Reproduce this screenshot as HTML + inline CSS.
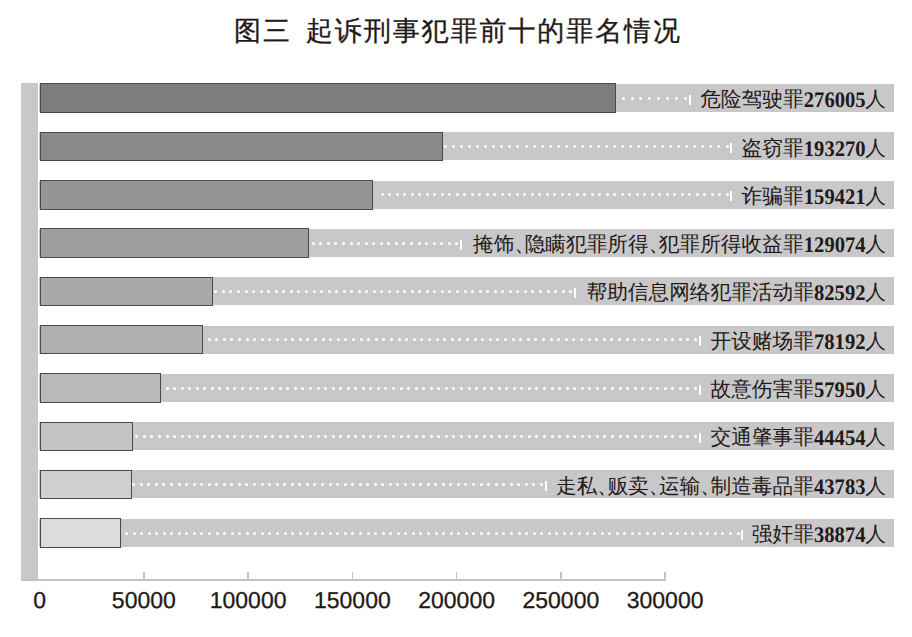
<!DOCTYPE html>
<html><head><meta charset="utf-8"><style>
html,body{margin:0;padding:0;background:#fff;}
body{width:912px;height:637px;position:relative;overflow:hidden;font-family:"Liberation Sans",sans-serif;color:#231815;text-rendering:geometricPrecision;}
.title{position:absolute;left:234px;top:12.7px;white-space:nowrap;font-size:27px;line-height:36px;letter-spacing:1.93px;-webkit-text-stroke:0.3px #231815;}
.lbar{position:absolute;left:20.5px;top:82.9px;width:17.7px;height:497.7px;background:#c8c8ca;}
.band{position:absolute;left:38.5px;width:855px;height:28.0px;background:#c8c8ca;}
.bar{position:absolute;left:39.6px;height:29.6px;box-sizing:border-box;border:1.1px solid #4a4a4a;}
.lab{position:absolute;right:26px;height:28.0px;font-size:20.68px;white-space:nowrap;display:flex;align-items:center;}
.num{display:inline-block;font-family:"Liberation Serif",serif;font-weight:bold;font-size:22.2px;transform:scaleX(0.928);transform-origin:right center;}
.vl{position:absolute;width:2px;height:10px;background:#fff;}
.p{display:inline-block;width:10.2px;overflow:visible;}
.dot{position:absolute;width:3px;height:3px;border-radius:50%;background:#fff;}
.axis{position:absolute;left:20.8px;top:579px;width:645.1px;height:1.8px;background:#c2c2c4;}
.tick{position:absolute;top:572px;width:1.6px;height:7.5px;background:#c6c6c8;}
.alab{position:absolute;top:587px;width:120px;text-align:center;font-size:23px;line-height:26px;-webkit-text-stroke:0.3px #231815;}
</style></head><body>
<div class="title">图三<span style="display:inline-block;width:14px"></span>起诉刑事犯罪前十的罪名情况</div>
<div class="lbar"></div>
<div class="band" style="top:84.0px"></div><div class="bar" style="top:83.4px;width:576.3px;background:#7d7d7d"></div><div class="vl" style="left:688.7px;top:94.8px"></div><div class="lab" style="top:86.2px"><span class="cn">危险驾驶罪</span><span class="num" style="margin-left:-4.79px">276005</span><span class="cn">人</span></div><i class="dot" style="left:683.90px;top:96.8px"></i><i class="dot" style="left:675.00px;top:96.8px"></i><i class="dot" style="left:666.10px;top:96.8px"></i><i class="dot" style="left:657.20px;top:96.8px"></i><i class="dot" style="left:648.30px;top:96.8px"></i><i class="dot" style="left:639.40px;top:96.8px"></i><i class="dot" style="left:630.50px;top:96.8px"></i><i class="dot" style="left:621.60px;top:96.8px"></i><div class="band" style="top:132.3px"></div><div class="bar" style="top:131.7px;width:403.8px;background:#898989"></div><div class="vl" style="left:730.3px;top:143.1px"></div><div class="lab" style="top:134.5px"><span class="cn">盗窃罪</span><span class="num" style="margin-left:-4.79px">193270</span><span class="cn">人</span></div><i class="dot" style="left:725.50px;top:145.1px"></i><i class="dot" style="left:717.46px;top:145.1px"></i><i class="dot" style="left:709.42px;top:145.1px"></i><i class="dot" style="left:701.38px;top:145.1px"></i><i class="dot" style="left:693.34px;top:145.1px"></i><i class="dot" style="left:685.30px;top:145.1px"></i><i class="dot" style="left:677.26px;top:145.1px"></i><i class="dot" style="left:669.22px;top:145.1px"></i><i class="dot" style="left:661.18px;top:145.1px"></i><i class="dot" style="left:653.14px;top:145.1px"></i><i class="dot" style="left:645.10px;top:145.1px"></i><i class="dot" style="left:637.06px;top:145.1px"></i><i class="dot" style="left:629.02px;top:145.1px"></i><i class="dot" style="left:620.98px;top:145.1px"></i><i class="dot" style="left:612.94px;top:145.1px"></i><i class="dot" style="left:604.90px;top:145.1px"></i><i class="dot" style="left:596.86px;top:145.1px"></i><i class="dot" style="left:588.82px;top:145.1px"></i><i class="dot" style="left:580.78px;top:145.1px"></i><i class="dot" style="left:572.74px;top:145.1px"></i><i class="dot" style="left:564.70px;top:145.1px"></i><i class="dot" style="left:556.66px;top:145.1px"></i><i class="dot" style="left:548.62px;top:145.1px"></i><i class="dot" style="left:540.58px;top:145.1px"></i><i class="dot" style="left:532.54px;top:145.1px"></i><i class="dot" style="left:524.50px;top:145.1px"></i><i class="dot" style="left:516.46px;top:145.1px"></i><i class="dot" style="left:508.42px;top:145.1px"></i><i class="dot" style="left:500.38px;top:145.1px"></i><i class="dot" style="left:492.34px;top:145.1px"></i><i class="dot" style="left:484.30px;top:145.1px"></i><i class="dot" style="left:476.26px;top:145.1px"></i><i class="dot" style="left:468.22px;top:145.1px"></i><i class="dot" style="left:460.18px;top:145.1px"></i><i class="dot" style="left:452.14px;top:145.1px"></i><i class="dot" style="left:444.10px;top:145.1px"></i><div class="band" style="top:180.6px"></div><div class="bar" style="top:180.0px;width:333.2px;background:#959595"></div><div class="vl" style="left:730.3px;top:191.4px"></div><div class="lab" style="top:182.8px"><span class="cn">诈骗罪</span><span class="num" style="margin-left:-4.79px">159421</span><span class="cn">人</span></div><i class="dot" style="left:725.50px;top:193.4px"></i><i class="dot" style="left:718.00px;top:193.4px"></i><i class="dot" style="left:710.50px;top:193.4px"></i><i class="dot" style="left:703.00px;top:193.4px"></i><i class="dot" style="left:695.50px;top:193.4px"></i><i class="dot" style="left:688.00px;top:193.4px"></i><i class="dot" style="left:680.50px;top:193.4px"></i><i class="dot" style="left:673.00px;top:193.4px"></i><i class="dot" style="left:665.50px;top:193.4px"></i><i class="dot" style="left:658.00px;top:193.4px"></i><i class="dot" style="left:650.50px;top:193.4px"></i><i class="dot" style="left:643.00px;top:193.4px"></i><i class="dot" style="left:635.50px;top:193.4px"></i><i class="dot" style="left:628.00px;top:193.4px"></i><i class="dot" style="left:620.50px;top:193.4px"></i><i class="dot" style="left:613.00px;top:193.4px"></i><i class="dot" style="left:605.50px;top:193.4px"></i><i class="dot" style="left:598.00px;top:193.4px"></i><i class="dot" style="left:590.50px;top:193.4px"></i><i class="dot" style="left:583.00px;top:193.4px"></i><i class="dot" style="left:575.50px;top:193.4px"></i><i class="dot" style="left:568.00px;top:193.4px"></i><i class="dot" style="left:560.50px;top:193.4px"></i><i class="dot" style="left:553.00px;top:193.4px"></i><i class="dot" style="left:545.50px;top:193.4px"></i><i class="dot" style="left:538.00px;top:193.4px"></i><i class="dot" style="left:530.50px;top:193.4px"></i><i class="dot" style="left:523.00px;top:193.4px"></i><i class="dot" style="left:515.50px;top:193.4px"></i><i class="dot" style="left:508.00px;top:193.4px"></i><i class="dot" style="left:500.50px;top:193.4px"></i><i class="dot" style="left:493.00px;top:193.4px"></i><i class="dot" style="left:485.50px;top:193.4px"></i><i class="dot" style="left:478.00px;top:193.4px"></i><i class="dot" style="left:470.50px;top:193.4px"></i><i class="dot" style="left:463.00px;top:193.4px"></i><i class="dot" style="left:455.50px;top:193.4px"></i><i class="dot" style="left:448.00px;top:193.4px"></i><i class="dot" style="left:440.50px;top:193.4px"></i><i class="dot" style="left:433.00px;top:193.4px"></i><i class="dot" style="left:425.50px;top:193.4px"></i><i class="dot" style="left:418.00px;top:193.4px"></i><i class="dot" style="left:410.50px;top:193.4px"></i><i class="dot" style="left:403.00px;top:193.4px"></i><i class="dot" style="left:395.50px;top:193.4px"></i><i class="dot" style="left:388.00px;top:193.4px"></i><i class="dot" style="left:380.50px;top:193.4px"></i><div class="band" style="top:228.9px"></div><div class="bar" style="top:228.3px;width:269.9px;background:#9f9f9f"></div><div class="vl" style="left:460.2px;top:239.7px"></div><div class="lab" style="top:231.1px"><span class="cn">掩饰<span class=p>、</span>隐瞒犯罪所得<span class=p>、</span>犯罪所得收益罪</span><span class="num" style="margin-left:-4.79px">129074</span><span class="cn">人</span></div><i class="dot" style="left:455.40px;top:241.7px"></i><i class="dot" style="left:447.84px;top:241.7px"></i><i class="dot" style="left:440.28px;top:241.7px"></i><i class="dot" style="left:432.72px;top:241.7px"></i><i class="dot" style="left:425.16px;top:241.7px"></i><i class="dot" style="left:417.60px;top:241.7px"></i><i class="dot" style="left:410.04px;top:241.7px"></i><i class="dot" style="left:402.48px;top:241.7px"></i><i class="dot" style="left:394.92px;top:241.7px"></i><i class="dot" style="left:387.36px;top:241.7px"></i><i class="dot" style="left:379.80px;top:241.7px"></i><i class="dot" style="left:372.24px;top:241.7px"></i><i class="dot" style="left:364.68px;top:241.7px"></i><i class="dot" style="left:357.12px;top:241.7px"></i><i class="dot" style="left:349.56px;top:241.7px"></i><i class="dot" style="left:342.00px;top:241.7px"></i><i class="dot" style="left:334.44px;top:241.7px"></i><i class="dot" style="left:326.88px;top:241.7px"></i><i class="dot" style="left:319.32px;top:241.7px"></i><i class="dot" style="left:311.76px;top:241.7px"></i><div class="band" style="top:277.2px"></div><div class="bar" style="top:276.6px;width:173.0px;background:#a9a9a9"></div><div class="vl" style="left:574.0px;top:288.0px"></div><div class="lab" style="top:279.4px"><span class="cn">帮助信息网络犯罪活动罪</span><span class="num" style="margin-left:-4.00px">82592</span><span class="cn">人</span></div><i class="dot" style="left:569.20px;top:290.0px"></i><i class="dot" style="left:561.65px;top:290.0px"></i><i class="dot" style="left:554.10px;top:290.0px"></i><i class="dot" style="left:546.55px;top:290.0px"></i><i class="dot" style="left:539.00px;top:290.0px"></i><i class="dot" style="left:531.45px;top:290.0px"></i><i class="dot" style="left:523.90px;top:290.0px"></i><i class="dot" style="left:516.35px;top:290.0px"></i><i class="dot" style="left:508.80px;top:290.0px"></i><i class="dot" style="left:501.25px;top:290.0px"></i><i class="dot" style="left:493.70px;top:290.0px"></i><i class="dot" style="left:486.15px;top:290.0px"></i><i class="dot" style="left:478.60px;top:290.0px"></i><i class="dot" style="left:471.05px;top:290.0px"></i><i class="dot" style="left:463.50px;top:290.0px"></i><i class="dot" style="left:455.95px;top:290.0px"></i><i class="dot" style="left:448.40px;top:290.0px"></i><i class="dot" style="left:440.85px;top:290.0px"></i><i class="dot" style="left:433.30px;top:290.0px"></i><i class="dot" style="left:425.75px;top:290.0px"></i><i class="dot" style="left:418.20px;top:290.0px"></i><i class="dot" style="left:410.65px;top:290.0px"></i><i class="dot" style="left:403.10px;top:290.0px"></i><i class="dot" style="left:395.55px;top:290.0px"></i><i class="dot" style="left:388.00px;top:290.0px"></i><i class="dot" style="left:380.45px;top:290.0px"></i><i class="dot" style="left:372.90px;top:290.0px"></i><i class="dot" style="left:365.35px;top:290.0px"></i><i class="dot" style="left:357.80px;top:290.0px"></i><i class="dot" style="left:350.25px;top:290.0px"></i><i class="dot" style="left:342.70px;top:290.0px"></i><i class="dot" style="left:335.15px;top:290.0px"></i><i class="dot" style="left:327.60px;top:290.0px"></i><i class="dot" style="left:320.05px;top:290.0px"></i><i class="dot" style="left:312.50px;top:290.0px"></i><i class="dot" style="left:304.95px;top:290.0px"></i><i class="dot" style="left:297.40px;top:290.0px"></i><i class="dot" style="left:289.85px;top:290.0px"></i><i class="dot" style="left:282.30px;top:290.0px"></i><i class="dot" style="left:274.75px;top:290.0px"></i><i class="dot" style="left:267.20px;top:290.0px"></i><i class="dot" style="left:259.65px;top:290.0px"></i><i class="dot" style="left:252.10px;top:290.0px"></i><i class="dot" style="left:244.55px;top:290.0px"></i><i class="dot" style="left:237.00px;top:290.0px"></i><i class="dot" style="left:229.45px;top:290.0px"></i><i class="dot" style="left:221.90px;top:290.0px"></i><i class="dot" style="left:214.35px;top:290.0px"></i><div class="band" style="top:325.5px"></div><div class="bar" style="top:324.9px;width:163.8px;background:#b0b0b0"></div><div class="vl" style="left:698.8px;top:336.3px"></div><div class="lab" style="top:327.7px"><span class="cn">开设赌场罪</span><span class="num" style="margin-left:-4.00px">78192</span><span class="cn">人</span></div><i class="dot" style="left:694.00px;top:338.3px"></i><i class="dot" style="left:686.40px;top:338.3px"></i><i class="dot" style="left:678.80px;top:338.3px"></i><i class="dot" style="left:671.20px;top:338.3px"></i><i class="dot" style="left:663.60px;top:338.3px"></i><i class="dot" style="left:656.00px;top:338.3px"></i><i class="dot" style="left:648.40px;top:338.3px"></i><i class="dot" style="left:640.80px;top:338.3px"></i><i class="dot" style="left:633.20px;top:338.3px"></i><i class="dot" style="left:625.60px;top:338.3px"></i><i class="dot" style="left:618.00px;top:338.3px"></i><i class="dot" style="left:610.40px;top:338.3px"></i><i class="dot" style="left:602.80px;top:338.3px"></i><i class="dot" style="left:595.20px;top:338.3px"></i><i class="dot" style="left:587.60px;top:338.3px"></i><i class="dot" style="left:580.00px;top:338.3px"></i><i class="dot" style="left:572.40px;top:338.3px"></i><i class="dot" style="left:564.80px;top:338.3px"></i><i class="dot" style="left:557.20px;top:338.3px"></i><i class="dot" style="left:549.60px;top:338.3px"></i><i class="dot" style="left:542.00px;top:338.3px"></i><i class="dot" style="left:534.40px;top:338.3px"></i><i class="dot" style="left:526.80px;top:338.3px"></i><i class="dot" style="left:519.20px;top:338.3px"></i><i class="dot" style="left:511.60px;top:338.3px"></i><i class="dot" style="left:504.00px;top:338.3px"></i><i class="dot" style="left:496.40px;top:338.3px"></i><i class="dot" style="left:488.80px;top:338.3px"></i><i class="dot" style="left:481.20px;top:338.3px"></i><i class="dot" style="left:473.60px;top:338.3px"></i><i class="dot" style="left:466.00px;top:338.3px"></i><i class="dot" style="left:458.40px;top:338.3px"></i><i class="dot" style="left:450.80px;top:338.3px"></i><i class="dot" style="left:443.20px;top:338.3px"></i><i class="dot" style="left:435.60px;top:338.3px"></i><i class="dot" style="left:428.00px;top:338.3px"></i><i class="dot" style="left:420.40px;top:338.3px"></i><i class="dot" style="left:412.80px;top:338.3px"></i><i class="dot" style="left:405.20px;top:338.3px"></i><i class="dot" style="left:397.60px;top:338.3px"></i><i class="dot" style="left:390.00px;top:338.3px"></i><i class="dot" style="left:382.40px;top:338.3px"></i><i class="dot" style="left:374.80px;top:338.3px"></i><i class="dot" style="left:367.20px;top:338.3px"></i><i class="dot" style="left:359.60px;top:338.3px"></i><i class="dot" style="left:352.00px;top:338.3px"></i><i class="dot" style="left:344.40px;top:338.3px"></i><i class="dot" style="left:336.80px;top:338.3px"></i><i class="dot" style="left:329.20px;top:338.3px"></i><i class="dot" style="left:321.60px;top:338.3px"></i><i class="dot" style="left:314.00px;top:338.3px"></i><i class="dot" style="left:306.40px;top:338.3px"></i><i class="dot" style="left:298.80px;top:338.3px"></i><i class="dot" style="left:291.20px;top:338.3px"></i><i class="dot" style="left:283.60px;top:338.3px"></i><i class="dot" style="left:276.00px;top:338.3px"></i><i class="dot" style="left:268.40px;top:338.3px"></i><i class="dot" style="left:260.80px;top:338.3px"></i><i class="dot" style="left:253.20px;top:338.3px"></i><i class="dot" style="left:245.60px;top:338.3px"></i><i class="dot" style="left:238.00px;top:338.3px"></i><i class="dot" style="left:230.40px;top:338.3px"></i><i class="dot" style="left:222.80px;top:338.3px"></i><i class="dot" style="left:215.20px;top:338.3px"></i><i class="dot" style="left:207.60px;top:338.3px"></i><div class="band" style="top:373.8px"></div><div class="bar" style="top:373.2px;width:121.6px;background:#b9b9ba"></div><div class="vl" style="left:698.8px;top:384.6px"></div><div class="lab" style="top:376.0px"><span class="cn">故意伤害罪</span><span class="num" style="margin-left:-4.00px">57950</span><span class="cn">人</span></div><i class="dot" style="left:694.00px;top:386.6px"></i><i class="dot" style="left:686.45px;top:386.6px"></i><i class="dot" style="left:678.90px;top:386.6px"></i><i class="dot" style="left:671.35px;top:386.6px"></i><i class="dot" style="left:663.80px;top:386.6px"></i><i class="dot" style="left:656.25px;top:386.6px"></i><i class="dot" style="left:648.70px;top:386.6px"></i><i class="dot" style="left:641.15px;top:386.6px"></i><i class="dot" style="left:633.60px;top:386.6px"></i><i class="dot" style="left:626.05px;top:386.6px"></i><i class="dot" style="left:618.50px;top:386.6px"></i><i class="dot" style="left:610.95px;top:386.6px"></i><i class="dot" style="left:603.40px;top:386.6px"></i><i class="dot" style="left:595.85px;top:386.6px"></i><i class="dot" style="left:588.30px;top:386.6px"></i><i class="dot" style="left:580.75px;top:386.6px"></i><i class="dot" style="left:573.20px;top:386.6px"></i><i class="dot" style="left:565.65px;top:386.6px"></i><i class="dot" style="left:558.10px;top:386.6px"></i><i class="dot" style="left:550.55px;top:386.6px"></i><i class="dot" style="left:543.00px;top:386.6px"></i><i class="dot" style="left:535.45px;top:386.6px"></i><i class="dot" style="left:527.90px;top:386.6px"></i><i class="dot" style="left:520.35px;top:386.6px"></i><i class="dot" style="left:512.80px;top:386.6px"></i><i class="dot" style="left:505.25px;top:386.6px"></i><i class="dot" style="left:497.70px;top:386.6px"></i><i class="dot" style="left:490.15px;top:386.6px"></i><i class="dot" style="left:482.60px;top:386.6px"></i><i class="dot" style="left:475.05px;top:386.6px"></i><i class="dot" style="left:467.50px;top:386.6px"></i><i class="dot" style="left:459.95px;top:386.6px"></i><i class="dot" style="left:452.40px;top:386.6px"></i><i class="dot" style="left:444.85px;top:386.6px"></i><i class="dot" style="left:437.30px;top:386.6px"></i><i class="dot" style="left:429.75px;top:386.6px"></i><i class="dot" style="left:422.20px;top:386.6px"></i><i class="dot" style="left:414.65px;top:386.6px"></i><i class="dot" style="left:407.10px;top:386.6px"></i><i class="dot" style="left:399.55px;top:386.6px"></i><i class="dot" style="left:392.00px;top:386.6px"></i><i class="dot" style="left:384.45px;top:386.6px"></i><i class="dot" style="left:376.90px;top:386.6px"></i><i class="dot" style="left:369.35px;top:386.6px"></i><i class="dot" style="left:361.80px;top:386.6px"></i><i class="dot" style="left:354.25px;top:386.6px"></i><i class="dot" style="left:346.70px;top:386.6px"></i><i class="dot" style="left:339.15px;top:386.6px"></i><i class="dot" style="left:331.60px;top:386.6px"></i><i class="dot" style="left:324.05px;top:386.6px"></i><i class="dot" style="left:316.50px;top:386.6px"></i><i class="dot" style="left:308.95px;top:386.6px"></i><i class="dot" style="left:301.40px;top:386.6px"></i><i class="dot" style="left:293.85px;top:386.6px"></i><i class="dot" style="left:286.30px;top:386.6px"></i><i class="dot" style="left:278.75px;top:386.6px"></i><i class="dot" style="left:271.20px;top:386.6px"></i><i class="dot" style="left:263.65px;top:386.6px"></i><i class="dot" style="left:256.10px;top:386.6px"></i><i class="dot" style="left:248.55px;top:386.6px"></i><i class="dot" style="left:241.00px;top:386.6px"></i><i class="dot" style="left:233.45px;top:386.6px"></i><i class="dot" style="left:225.90px;top:386.6px"></i><i class="dot" style="left:218.35px;top:386.6px"></i><i class="dot" style="left:210.80px;top:386.6px"></i><i class="dot" style="left:203.25px;top:386.6px"></i><i class="dot" style="left:195.70px;top:386.6px"></i><i class="dot" style="left:188.15px;top:386.6px"></i><i class="dot" style="left:180.60px;top:386.6px"></i><i class="dot" style="left:173.05px;top:386.6px"></i><i class="dot" style="left:165.50px;top:386.6px"></i><div class="band" style="top:422.1px"></div><div class="bar" style="top:421.5px;width:93.5px;background:#c4c4c6"></div><div class="vl" style="left:698.8px;top:432.9px"></div><div class="lab" style="top:424.3px"><span class="cn">交通肇事罪</span><span class="num" style="margin-left:-4.00px">44454</span><span class="cn">人</span></div><i class="dot" style="left:694.00px;top:434.9px"></i><i class="dot" style="left:686.45px;top:434.9px"></i><i class="dot" style="left:678.90px;top:434.9px"></i><i class="dot" style="left:671.35px;top:434.9px"></i><i class="dot" style="left:663.80px;top:434.9px"></i><i class="dot" style="left:656.25px;top:434.9px"></i><i class="dot" style="left:648.70px;top:434.9px"></i><i class="dot" style="left:641.15px;top:434.9px"></i><i class="dot" style="left:633.60px;top:434.9px"></i><i class="dot" style="left:626.05px;top:434.9px"></i><i class="dot" style="left:618.50px;top:434.9px"></i><i class="dot" style="left:610.95px;top:434.9px"></i><i class="dot" style="left:603.40px;top:434.9px"></i><i class="dot" style="left:595.85px;top:434.9px"></i><i class="dot" style="left:588.30px;top:434.9px"></i><i class="dot" style="left:580.75px;top:434.9px"></i><i class="dot" style="left:573.20px;top:434.9px"></i><i class="dot" style="left:565.65px;top:434.9px"></i><i class="dot" style="left:558.10px;top:434.9px"></i><i class="dot" style="left:550.55px;top:434.9px"></i><i class="dot" style="left:543.00px;top:434.9px"></i><i class="dot" style="left:535.45px;top:434.9px"></i><i class="dot" style="left:527.90px;top:434.9px"></i><i class="dot" style="left:520.35px;top:434.9px"></i><i class="dot" style="left:512.80px;top:434.9px"></i><i class="dot" style="left:505.25px;top:434.9px"></i><i class="dot" style="left:497.70px;top:434.9px"></i><i class="dot" style="left:490.15px;top:434.9px"></i><i class="dot" style="left:482.60px;top:434.9px"></i><i class="dot" style="left:475.05px;top:434.9px"></i><i class="dot" style="left:467.50px;top:434.9px"></i><i class="dot" style="left:459.95px;top:434.9px"></i><i class="dot" style="left:452.40px;top:434.9px"></i><i class="dot" style="left:444.85px;top:434.9px"></i><i class="dot" style="left:437.30px;top:434.9px"></i><i class="dot" style="left:429.75px;top:434.9px"></i><i class="dot" style="left:422.20px;top:434.9px"></i><i class="dot" style="left:414.65px;top:434.9px"></i><i class="dot" style="left:407.10px;top:434.9px"></i><i class="dot" style="left:399.55px;top:434.9px"></i><i class="dot" style="left:392.00px;top:434.9px"></i><i class="dot" style="left:384.45px;top:434.9px"></i><i class="dot" style="left:376.90px;top:434.9px"></i><i class="dot" style="left:369.35px;top:434.9px"></i><i class="dot" style="left:361.80px;top:434.9px"></i><i class="dot" style="left:354.25px;top:434.9px"></i><i class="dot" style="left:346.70px;top:434.9px"></i><i class="dot" style="left:339.15px;top:434.9px"></i><i class="dot" style="left:331.60px;top:434.9px"></i><i class="dot" style="left:324.05px;top:434.9px"></i><i class="dot" style="left:316.50px;top:434.9px"></i><i class="dot" style="left:308.95px;top:434.9px"></i><i class="dot" style="left:301.40px;top:434.9px"></i><i class="dot" style="left:293.85px;top:434.9px"></i><i class="dot" style="left:286.30px;top:434.9px"></i><i class="dot" style="left:278.75px;top:434.9px"></i><i class="dot" style="left:271.20px;top:434.9px"></i><i class="dot" style="left:263.65px;top:434.9px"></i><i class="dot" style="left:256.10px;top:434.9px"></i><i class="dot" style="left:248.55px;top:434.9px"></i><i class="dot" style="left:241.00px;top:434.9px"></i><i class="dot" style="left:233.45px;top:434.9px"></i><i class="dot" style="left:225.90px;top:434.9px"></i><i class="dot" style="left:218.35px;top:434.9px"></i><i class="dot" style="left:210.80px;top:434.9px"></i><i class="dot" style="left:203.25px;top:434.9px"></i><i class="dot" style="left:195.70px;top:434.9px"></i><i class="dot" style="left:188.15px;top:434.9px"></i><i class="dot" style="left:180.60px;top:434.9px"></i><i class="dot" style="left:173.05px;top:434.9px"></i><i class="dot" style="left:165.50px;top:434.9px"></i><i class="dot" style="left:157.95px;top:434.9px"></i><i class="dot" style="left:150.40px;top:434.9px"></i><i class="dot" style="left:142.85px;top:434.9px"></i><i class="dot" style="left:135.30px;top:434.9px"></i><div class="band" style="top:470.4px"></div><div class="bar" style="top:469.8px;width:92.1px;background:#cecfd0"></div><div class="vl" style="left:544.7px;top:481.2px"></div><div class="lab" style="top:472.6px"><span class="cn">走私<span class=p>、</span>贩卖<span class=p>、</span>运输<span class=p>、</span>制造毒品罪</span><span class="num" style="margin-left:-4.00px">43783</span><span class="cn">人</span></div><i class="dot" style="left:539.90px;top:483.2px"></i><i class="dot" style="left:532.35px;top:483.2px"></i><i class="dot" style="left:524.80px;top:483.2px"></i><i class="dot" style="left:517.25px;top:483.2px"></i><i class="dot" style="left:509.70px;top:483.2px"></i><i class="dot" style="left:502.15px;top:483.2px"></i><i class="dot" style="left:494.60px;top:483.2px"></i><i class="dot" style="left:487.05px;top:483.2px"></i><i class="dot" style="left:479.50px;top:483.2px"></i><i class="dot" style="left:471.95px;top:483.2px"></i><i class="dot" style="left:464.40px;top:483.2px"></i><i class="dot" style="left:456.85px;top:483.2px"></i><i class="dot" style="left:449.30px;top:483.2px"></i><i class="dot" style="left:441.75px;top:483.2px"></i><i class="dot" style="left:434.20px;top:483.2px"></i><i class="dot" style="left:426.65px;top:483.2px"></i><i class="dot" style="left:419.10px;top:483.2px"></i><i class="dot" style="left:411.55px;top:483.2px"></i><i class="dot" style="left:404.00px;top:483.2px"></i><i class="dot" style="left:396.45px;top:483.2px"></i><i class="dot" style="left:388.90px;top:483.2px"></i><i class="dot" style="left:381.35px;top:483.2px"></i><i class="dot" style="left:373.80px;top:483.2px"></i><i class="dot" style="left:366.25px;top:483.2px"></i><i class="dot" style="left:358.70px;top:483.2px"></i><i class="dot" style="left:351.15px;top:483.2px"></i><i class="dot" style="left:343.60px;top:483.2px"></i><i class="dot" style="left:336.05px;top:483.2px"></i><i class="dot" style="left:328.50px;top:483.2px"></i><i class="dot" style="left:320.95px;top:483.2px"></i><i class="dot" style="left:313.40px;top:483.2px"></i><i class="dot" style="left:305.85px;top:483.2px"></i><i class="dot" style="left:298.30px;top:483.2px"></i><i class="dot" style="left:290.75px;top:483.2px"></i><i class="dot" style="left:283.20px;top:483.2px"></i><i class="dot" style="left:275.65px;top:483.2px"></i><i class="dot" style="left:268.10px;top:483.2px"></i><i class="dot" style="left:260.55px;top:483.2px"></i><i class="dot" style="left:253.00px;top:483.2px"></i><i class="dot" style="left:245.45px;top:483.2px"></i><i class="dot" style="left:237.90px;top:483.2px"></i><i class="dot" style="left:230.35px;top:483.2px"></i><i class="dot" style="left:222.80px;top:483.2px"></i><i class="dot" style="left:215.25px;top:483.2px"></i><i class="dot" style="left:207.70px;top:483.2px"></i><i class="dot" style="left:200.15px;top:483.2px"></i><i class="dot" style="left:192.60px;top:483.2px"></i><i class="dot" style="left:185.05px;top:483.2px"></i><i class="dot" style="left:177.50px;top:483.2px"></i><i class="dot" style="left:169.95px;top:483.2px"></i><i class="dot" style="left:162.40px;top:483.2px"></i><i class="dot" style="left:154.85px;top:483.2px"></i><i class="dot" style="left:147.30px;top:483.2px"></i><i class="dot" style="left:139.75px;top:483.2px"></i><i class="dot" style="left:132.20px;top:483.2px"></i><div class="band" style="top:518.7px"></div><div class="bar" style="top:518.1px;width:81.9px;background:#dcdcdc"></div><div class="vl" style="left:741.3px;top:529.5px"></div><div class="lab" style="top:520.9px"><span class="cn">强奸罪</span><span class="num" style="margin-left:-4.00px">38874</span><span class="cn">人</span></div><i class="dot" style="left:736.50px;top:531.5px"></i><i class="dot" style="left:728.95px;top:531.5px"></i><i class="dot" style="left:721.40px;top:531.5px"></i><i class="dot" style="left:713.85px;top:531.5px"></i><i class="dot" style="left:706.30px;top:531.5px"></i><i class="dot" style="left:698.75px;top:531.5px"></i><i class="dot" style="left:691.20px;top:531.5px"></i><i class="dot" style="left:683.65px;top:531.5px"></i><i class="dot" style="left:676.10px;top:531.5px"></i><i class="dot" style="left:668.55px;top:531.5px"></i><i class="dot" style="left:661.00px;top:531.5px"></i><i class="dot" style="left:653.45px;top:531.5px"></i><i class="dot" style="left:645.90px;top:531.5px"></i><i class="dot" style="left:638.35px;top:531.5px"></i><i class="dot" style="left:630.80px;top:531.5px"></i><i class="dot" style="left:623.25px;top:531.5px"></i><i class="dot" style="left:615.70px;top:531.5px"></i><i class="dot" style="left:608.15px;top:531.5px"></i><i class="dot" style="left:600.60px;top:531.5px"></i><i class="dot" style="left:593.05px;top:531.5px"></i><i class="dot" style="left:585.50px;top:531.5px"></i><i class="dot" style="left:577.95px;top:531.5px"></i><i class="dot" style="left:570.40px;top:531.5px"></i><i class="dot" style="left:562.85px;top:531.5px"></i><i class="dot" style="left:555.30px;top:531.5px"></i><i class="dot" style="left:547.75px;top:531.5px"></i><i class="dot" style="left:540.20px;top:531.5px"></i><i class="dot" style="left:532.65px;top:531.5px"></i><i class="dot" style="left:525.10px;top:531.5px"></i><i class="dot" style="left:517.55px;top:531.5px"></i><i class="dot" style="left:510.00px;top:531.5px"></i><i class="dot" style="left:502.45px;top:531.5px"></i><i class="dot" style="left:494.90px;top:531.5px"></i><i class="dot" style="left:487.35px;top:531.5px"></i><i class="dot" style="left:479.80px;top:531.5px"></i><i class="dot" style="left:472.25px;top:531.5px"></i><i class="dot" style="left:464.70px;top:531.5px"></i><i class="dot" style="left:457.15px;top:531.5px"></i><i class="dot" style="left:449.60px;top:531.5px"></i><i class="dot" style="left:442.05px;top:531.5px"></i><i class="dot" style="left:434.50px;top:531.5px"></i><i class="dot" style="left:426.95px;top:531.5px"></i><i class="dot" style="left:419.40px;top:531.5px"></i><i class="dot" style="left:411.85px;top:531.5px"></i><i class="dot" style="left:404.30px;top:531.5px"></i><i class="dot" style="left:396.75px;top:531.5px"></i><i class="dot" style="left:389.20px;top:531.5px"></i><i class="dot" style="left:381.65px;top:531.5px"></i><i class="dot" style="left:374.10px;top:531.5px"></i><i class="dot" style="left:366.55px;top:531.5px"></i><i class="dot" style="left:359.00px;top:531.5px"></i><i class="dot" style="left:351.45px;top:531.5px"></i><i class="dot" style="left:343.90px;top:531.5px"></i><i class="dot" style="left:336.35px;top:531.5px"></i><i class="dot" style="left:328.80px;top:531.5px"></i><i class="dot" style="left:321.25px;top:531.5px"></i><i class="dot" style="left:313.70px;top:531.5px"></i><i class="dot" style="left:306.15px;top:531.5px"></i><i class="dot" style="left:298.60px;top:531.5px"></i><i class="dot" style="left:291.05px;top:531.5px"></i><i class="dot" style="left:283.50px;top:531.5px"></i><i class="dot" style="left:275.95px;top:531.5px"></i><i class="dot" style="left:268.40px;top:531.5px"></i><i class="dot" style="left:260.85px;top:531.5px"></i><i class="dot" style="left:253.30px;top:531.5px"></i><i class="dot" style="left:245.75px;top:531.5px"></i><i class="dot" style="left:238.20px;top:531.5px"></i><i class="dot" style="left:230.65px;top:531.5px"></i><i class="dot" style="left:223.10px;top:531.5px"></i><i class="dot" style="left:215.55px;top:531.5px"></i><i class="dot" style="left:208.00px;top:531.5px"></i><i class="dot" style="left:200.45px;top:531.5px"></i><i class="dot" style="left:192.90px;top:531.5px"></i><i class="dot" style="left:185.35px;top:531.5px"></i><i class="dot" style="left:177.80px;top:531.5px"></i><i class="dot" style="left:170.25px;top:531.5px"></i><i class="dot" style="left:162.70px;top:531.5px"></i><i class="dot" style="left:155.15px;top:531.5px"></i><i class="dot" style="left:147.60px;top:531.5px"></i><i class="dot" style="left:140.05px;top:531.5px"></i><i class="dot" style="left:132.50px;top:531.5px"></i><i class="dot" style="left:124.95px;top:531.5px"></i>
<div class="axis"></div>
<div class="alab" style="left:-20.40px">0</div><div class="tick" style="left:143.10px"></div><div class="alab" style="left:83.85px">50000</div><div class="tick" style="left:247.35px"></div><div class="alab" style="left:188.10px">100000</div><div class="tick" style="left:351.60px"></div><div class="alab" style="left:292.35px">150000</div><div class="tick" style="left:455.85px"></div><div class="alab" style="left:396.60px">200000</div><div class="tick" style="left:560.10px"></div><div class="alab" style="left:500.85px">250000</div><div class="tick" style="left:664.35px"></div><div class="alab" style="left:605.10px">300000</div>
</body></html>
